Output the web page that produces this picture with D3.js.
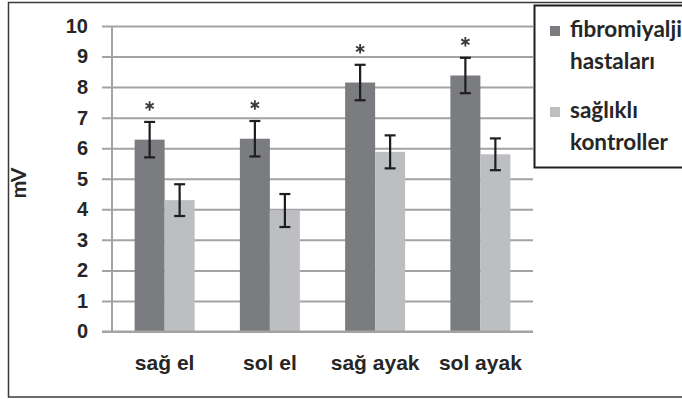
<!DOCTYPE html>
<html><head><meta charset="utf-8">
<script src="https://cdn.jsdelivr.net/npm/d3@7"></script>
<style>
html,body{margin:0;padding:0;background:#fff;overflow:hidden;}
svg{display:block;font-family:Lato, "Open Sans", sans-serif;}
</style></head>
<body>
<svg id="chart" width="682" height="399"></svg>
<script>
const categories = ["sağ el", "sol el", "sağ ayak", "sol ayak"];
const fibroValues = [6.28, 6.31, 8.15, 8.38];
const fibroErrors = [0.58, 0.58, 0.58, 0.58];
const controlValues = [4.30, 3.96, 5.88, 5.80];
const controlErrors = [0.52, 0.54, 0.54, 0.52];
const significant = [true, true, true, true];
const yTicks = [0, 1, 2, 3, 4, 5, 6, 7, 8, 9, 10];
const seriesNames = [["fibromiyalji", "hastaları"], ["sağlıklı", "kontroller"]];
const seriesColors = ["#7b7c80", "#bdbec2"];

const svg = d3.select("#chart");
const plot = {left: 112, right: 533, top: 26, bottom: 331.5};

// outer frame
svg.append("rect").attr("x", 8.5).attr("y", 2.5).attr("width", 700).attr("height", 394.5)
  .attr("fill", "none").attr("stroke", "#3a3a3a").attr("stroke-width", 1.5);

const x = d3.scaleBand().domain(categories).range([plot.left, plot.right])
  .paddingInner(0.43).paddingOuter(0.215);
const xs = d3.scaleBand().domain([0, 1]).range([0, x.bandwidth()]);
const y = d3.scaleLinear().domain([0, 10]).range([plot.bottom, plot.top]);

// gridlines + ticks
const yAxis = d3.axisLeft(y).tickValues(yTicks).tickSize(-(plot.right - plot.left)).tickSizeOuter(0).tickPadding(24);
const gy = svg.append("g").attr("transform", `translate(${plot.left},0)`).call(yAxis);
gy.select(".domain").remove();
gy.selectAll(".tick line").attr("stroke", "#a3a3a3").attr("stroke-width", 2).attr("x1", -10);
gy.selectAll(".tick text").attr("fill", "#262626").attr("font-size", 20).attr("font-weight", "bold");

// y axis vertical line
svg.append("line").attr("x1", plot.left).attr("x2", plot.left).attr("y1", y(10)).attr("y2", y(0))
  .attr("stroke", "#a3a3a3").attr("stroke-width", 2);

const series = [
  {vals: fibroValues, errs: fibroErrors},
  {vals: controlValues, errs: controlErrors}
];

series.forEach((s, si) => {
  const g = svg.append("g");
  g.selectAll("rect").data(categories).join("rect")
    .attr("x", c => x(c) + xs(si))
    .attr("width", xs.bandwidth())
    .attr("y", (c, i) => y(s.vals[i]))
    .attr("height", (c, i) => y(0) - y(s.vals[i]))
    .attr("fill", seriesColors[si]);
});

// x axis baseline over bars
svg.append("line").attr("x1", plot.left - 10).attr("x2", plot.right).attr("y1", y(0)).attr("y2", y(0))
  .attr("stroke", "#a3a3a3").attr("stroke-width", 2);

// error bars
series.forEach((s, si) => {
  const g = svg.append("g").attr("stroke", "#1e1e1e").attr("stroke-width", 2.2);
  categories.forEach((c, i) => {
    const cx = x(c) + xs(si) + xs.bandwidth() / 2;
    const top = y(s.vals[i] + s.errs[i]);
    const bot = y(s.vals[i] - s.errs[i]);
    g.append("line").attr("x1", cx).attr("x2", cx).attr("y1", top).attr("y2", bot);
    g.append("line").attr("x1", cx - 5.5).attr("x2", cx + 5.5).attr("y1", top).attr("y2", top);
    g.append("line").attr("x1", cx - 5.5).attr("x2", cx + 5.5).attr("y1", bot).attr("y2", bot);
  });
});

// asterisks
const star = d3.symbol().type(d3.symbolAsterisk).size(64);
categories.forEach((c, i) => {
  if (!significant[i]) return;
  const cx = x(c) + xs(0) + xs.bandwidth() / 2;
  const top = y(fibroValues[i] + fibroErrors[i]);
  svg.append("path").attr("d", star()).attr("transform", `translate(${cx},${top - 16})`)
    .attr("fill", "none").attr("stroke", "#3a3a3a").attr("stroke-width", 1.8);
});

// x axis labels
const xAxis = d3.axisBottom(x).tickSize(0).tickPadding(23.5);
const gx = svg.append("g").attr("transform", `translate(0,${y(0)})`).call(xAxis);
gx.select(".domain").remove();
gx.selectAll(".tick text").attr("fill", "#262626").attr("font-size", 21).attr("font-weight", "bold");

// y title
svg.append("text").attr("transform", "translate(26,183) rotate(-90)").attr("text-anchor", "middle")
  .attr("font-size", 21).attr("font-weight", "bold").attr("fill", "#262626").text("mV");

// legend
const lg = svg.append("g");
lg.append("rect").attr("x", 534.5).attr("y", 5.5).attr("width", 200).attr("height", 162)
  .attr("fill", "#fff").attr("stroke", "#1e1e1e").attr("stroke-width", 2);
const entryY = [37, 118];
seriesNames.forEach((lines, i) => {
  lg.append("rect").attr("x", 550).attr("y", entryY[i] - 11).attr("width", 10).attr("height", 10)
    .attr("fill", seriesColors[i]);
  lines.forEach((t, j) => {
    lg.append("text").attr("x", 570).attr("y", entryY[i] + j * 32).attr("font-size", 22.5)
      .attr("font-weight", "bold").attr("fill", "#262626").text(t);
  });
});
</script>
</body></html>
